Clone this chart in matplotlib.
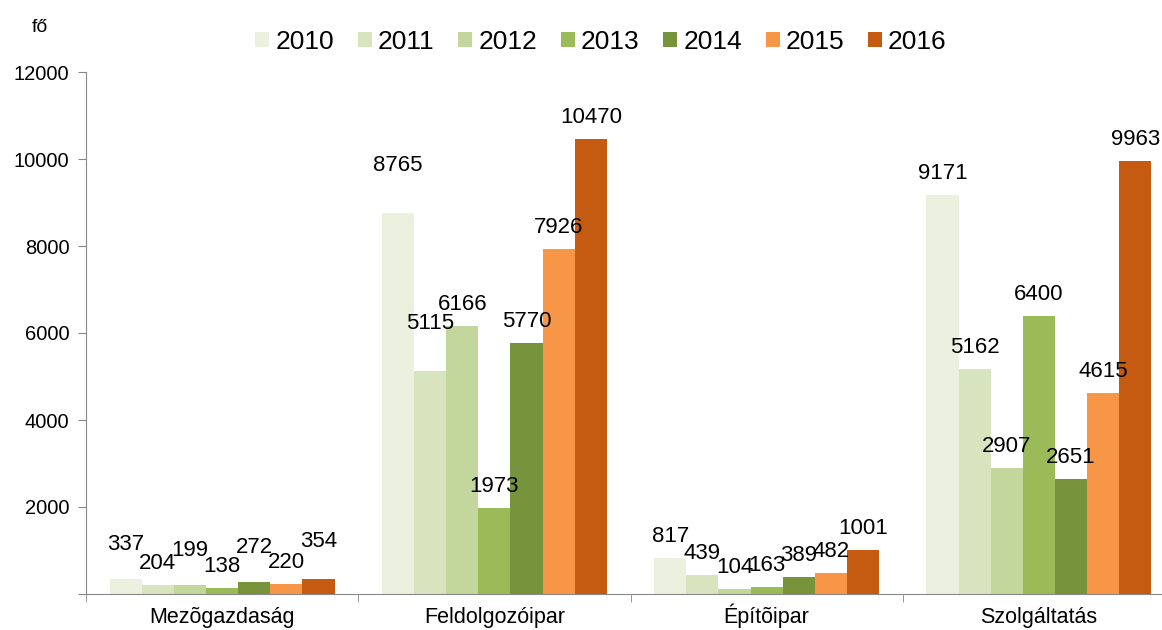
import numpy as np
import matplotlib.pyplot as plt

plt.rcParams['font.family'] = ['Liberation Sans', 'DejaVu Sans']

# adatok
categories = ['Mezõgazdaság', 'Feldolgozóipar', 'Építõipar', 'Szolgáltatás']
years = ['2010', '2011', '2012', '2013', '2014', '2015', '2016']
values = {
    '2010': [337, 8765, 817, 9171],
    '2011': [204, 5115, 439, 5162],
    '2012': [199, 6166, 104, 2907],
    '2013': [138, 1973, 163, 6400],
    '2014': [272, 5770, 389, 2651],
    '2015': [220, 7926, 482, 4615],
    '2016': [354, 10470, 1001, 9963],
}
colors = ['#EBF1DE', '#D7E4BD', '#C3D69B', '#9BBB59', '#77933C', '#F79646', '#C55A11']

# kézi eltolások a feliratokhoz (év, kategória index) -> extra pixel
extra = {('2010', 0): 13, ('2012', 0): 13, ('2014', 0): 13, ('2016', 0): 16,
         ('2010', 1): 26, ('2011', 1): 26}

fig = plt.figure(figsize=(11.62, 6.30), dpi=100)
ax = fig.add_axes([86 / 1162, 36 / 630, 1089 / 1162, 522 / 630])

x = np.arange(len(categories))
w = 0.118
for i, y in enumerate(years):
    pos = x - 3 * w + i * w
    ax.bar(pos, values[y], width=w, color=colors[i], label=y, edgecolor='none')
    for j, v in enumerate(values[y]):
        ax.annotate(str(v), (pos[j], v), xytext=(0, 11 + extra.get((y, j), 0)),
                    textcoords='offset pixels', ha='center', va='bottom', fontsize=16)

ax.set_xlim(-0.5, 3.5)
ax.set_ylim(0, 12000)
ax.set_yticks(range(0, 12001, 2000))
ax.set_yticklabels([''] + [str(t) for t in range(2000, 12001, 2000)], fontsize=14.5)
ax.set_xticks(x)
ax.set_xticklabels(categories, fontsize=15.5, va='baseline')
ax.tick_params(axis='x', length=0, pad=21)
ax.set_xticks(np.arange(-0.5, 3.6, 1), minor=True)
ax.tick_params(axis='x', which='minor', length=6, color='#888888')
ax.tick_params(axis='y', length=6, color='#888888', pad=6)

for s in ['top', 'right']:
    ax.spines[s].set_visible(False)
ax.spines['left'].set_color('#888888')
ax.spines['bottom'].set_color('#888888')

fig.text(40 / 1162, 1 - 27 / 630, 'fő', fontsize=14, ha='center', va='center')

fig.legend(loc='center', bbox_to_anchor=(601 / 1162, 1 - 42 / 630), ncol=7, frameon=False,
           fontsize=19, handlelength=0.53, handleheight=0.53, handletextpad=0.23,
           columnspacing=0.9)

plt.savefig('out.png', dpi=100)
